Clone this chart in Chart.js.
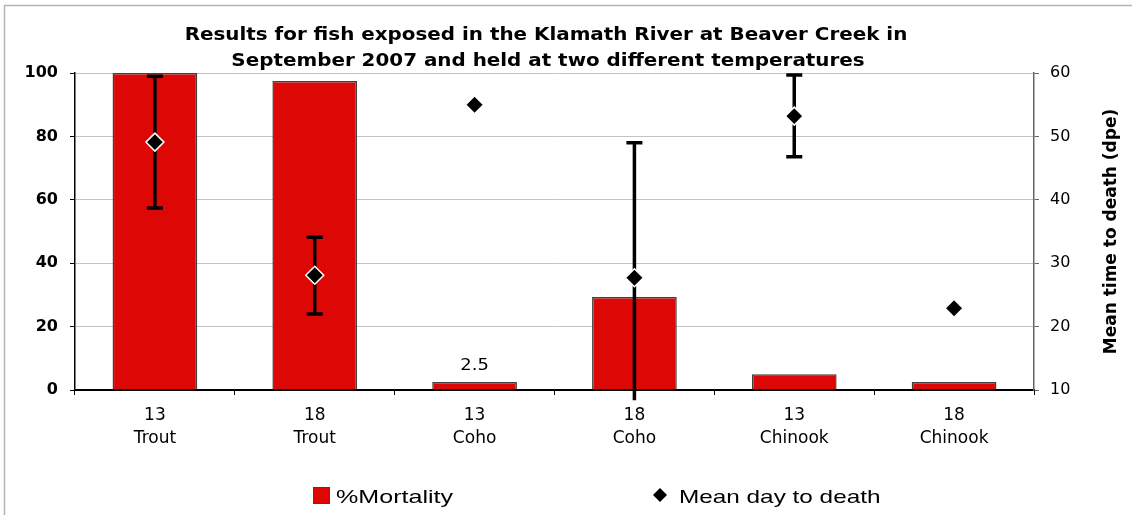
<!DOCTYPE html>
<html>
<head>
<meta charset="utf-8">
<script src="https://cdn.jsdelivr.net/npm/chart.js@4.4.1/dist/chart.umd.min.js"></script>
<style>
  html, body { margin: 0; padding: 0; background: #fff; }
  #wrap { width: 1132px; height: 515px; position: relative; }
</style>
</head>
<body>
<div id="wrap"><canvas id="c" width="1132" height="515"></canvas></div>
<script>
// ---- data ----
const categories = [["13", "Trout"], ["18", "Trout"], ["13", "Coho"], ["18", "Coho"], ["13", "Chinook"], ["18", "Chinook"]];
const mortality = [100, 97.5, 2.5, 29.3, 5, 2.5];
const meanDay = [49.1, 28.1, 55.0, 27.7, 53.2, 22.9];
const errHigh = [59.5, 34.1, null, 49.0, 59.7, null];
const errLow = [38.7, 22.0, null, 8.4, 46.8, null];
const dataLabels = [null, null, "2.5", null, null, null];
const titleLines = ["Results for fish exposed in the Klamath River at Beaver Creek in",
                    "September 2007 and held at two different temperatures"];
const rightAxisTitle = "Mean time to death (dpe)";
const legendNames = ["%Mortality", "Mean day to death"];

const RED = '#dd0806';

function stretchedText(ctx, text, x, y, sx) {
  ctx.save();
  ctx.translate(x, y);
  ctx.scale(sx, 1);
  ctx.fillText(text, 0, 0);
  ctx.restore();
}

const decor = {
  id: 'decor',
  beforeDatasetDraw(chart, args) {
    if (args.index !== 1) return;
    const ctx = chart.ctx;
    const x = chart.scales.x, y1 = chart.scales.y1;
    ctx.save();
    ctx.strokeStyle = '#000';
    ctx.lineWidth = 3.5;
    ctx.lineCap = 'butt';
    for (let i = 0; i < categories.length; i++) {
      if (errHigh[i] == null) continue;
      const px = x.getPixelForValue(i);
      const top = y1.getPixelForValue(errHigh[i]);
      const bot = y1.getPixelForValue(errLow[i]);
      ctx.beginPath();
      ctx.moveTo(px, top); ctx.lineTo(px, bot); ctx.stroke();
      ctx.beginPath();
      ctx.moveTo(px - 8, top); ctx.lineTo(px + 8, top);
      if (errLow[i] >= y1.min) { ctx.moveTo(px - 8, bot); ctx.lineTo(px + 8, bot); }
      ctx.stroke();
    }
    ctx.restore();
  },
  afterDraw(chart) {
    const ctx = chart.ctx;
    const x = chart.scales.x, y = chart.scales.y;
    ctx.save();
    // outer border
    ctx.strokeStyle = '#b4b4b4';
    ctx.lineWidth = 1.5;
    ctx.beginPath();
    ctx.moveTo(4.5, 515); ctx.lineTo(4.5, 5.5); ctx.lineTo(1132, 5.5);
    ctx.stroke();
    // title
    ctx.fillStyle = '#000';
    ctx.textAlign = 'center';
    ctx.textBaseline = 'alphabetic';
    ctx.font = 'bold 17px "DejaVu Sans"';
    stretchedText(ctx, titleLines[0], 546, 40, 1.17);
    stretchedText(ctx, titleLines[1], 548, 66, 1.17);
    // right axis title
    ctx.save();
    ctx.translate(1116, 231.5);
    ctx.rotate(-Math.PI / 2);
    ctx.font = 'bold 17px "DejaVu Sans"';
    ctx.fillText(rightAxisTitle, 0, 0);
    ctx.restore();
    // data labels
    ctx.font = '16px "DejaVu Sans"';
    ctx.textAlign = 'center';
    for (let i = 0; i < dataLabels.length; i++) {
      if (!dataLabels[i]) continue;
      stretchedText(ctx, dataLabels[i], x.getPixelForValue(i), y.getPixelForValue(mortality[i]) - 12, 1.12);
    }
    // legend
    ctx.fillStyle = RED;
    ctx.fillRect(313, 487, 17, 17);
    ctx.strokeStyle = '#404040';
    ctx.lineWidth = 1;
    ctx.strokeRect(313.5, 487.5, 16, 16);
    ctx.fillStyle = '#000';
    ctx.beginPath();
    ctx.moveTo(660, 488); ctx.lineTo(667, 495); ctx.lineTo(660, 502); ctx.lineTo(653, 495); ctx.closePath();
    ctx.fill();
    ctx.textAlign = 'left';
    ctx.font = '19px "Liberation Sans"';
    stretchedText(ctx, legendNames[0], 336, 503, 1.32);
    stretchedText(ctx, legendNames[1], 679, 503, 1.28);
    ctx.restore();
  }
};

new Chart(document.getElementById('c'), {
  type: 'bar',
  data: {
    labels: categories,
    datasets: [
      {
        label: legendNames[0],
        data: mortality,
        yAxisID: 'y',
        backgroundColor: RED,
        borderColor: '#404040',
        borderWidth: 1.5,
        categoryPercentage: 1,
        barPercentage: 0.53,
        order: 1
      },
      {
        type: 'line',
        label: legendNames[1],
        data: meanDay,
        yAxisID: 'y1',
        showLine: false,
        pointStyle: 'rectRot',
        pointRadius: 9,
        pointBackgroundColor: '#000',
        pointBorderColor: '#fff',
        pointBorderWidth: 1.5,
        order: 0,
        clip: false
      }
    ]
  },
  options: {
    responsive: false,
    animation: false,
    layout: { padding: { left: 0, right: 0, top: 73, bottom: 65 } },
    plugins: { legend: { display: false }, title: { display: false }, tooltip: { enabled: false } },
    scales: {
      x: {
        offset: true,
        grid: { offset: true, drawOnChartArea: false, color: '#000', tickLength: 5, lineWidth: 1 },
        border: { color: '#000', width: 2 },
        ticks: { color: '#000', font: { family: 'DejaVu Sans', size: 17, lineHeight: 1.3 }, padding: 10, maxRotation: 0, autoSkip: false },
        afterFit: s => { s.height = 60; }
      },
      y: {
        position: 'left',
        min: 0, max: 100,
        ticks: { stepSize: 20, color: '#000', font: { family: 'DejaVu Sans', size: 16, weight: 'bold' }, padding: 12 },
        grid: { color: '#c4c4c4', tickColor: '#000', tickLength: 5, lineWidth: 1 },
        border: { color: '#000', width: 1.5 },
        afterFit: s => { s.width = 75; }
      },
      y1: {
        position: 'right',
        min: 10, max: 60,
        ticks: { stepSize: 10, color: '#000', font: { family: 'DejaVu Sans', size: 16 }, padding: 11 },
        grid: { drawOnChartArea: false, color: '#666', tickLength: 5 },
        border: { color: '#666', width: 1.5 },
        afterFit: s => { s.width = 98; }
      }
    }
  },
  plugins: [decor]
});
</script>
</body>
</html>
